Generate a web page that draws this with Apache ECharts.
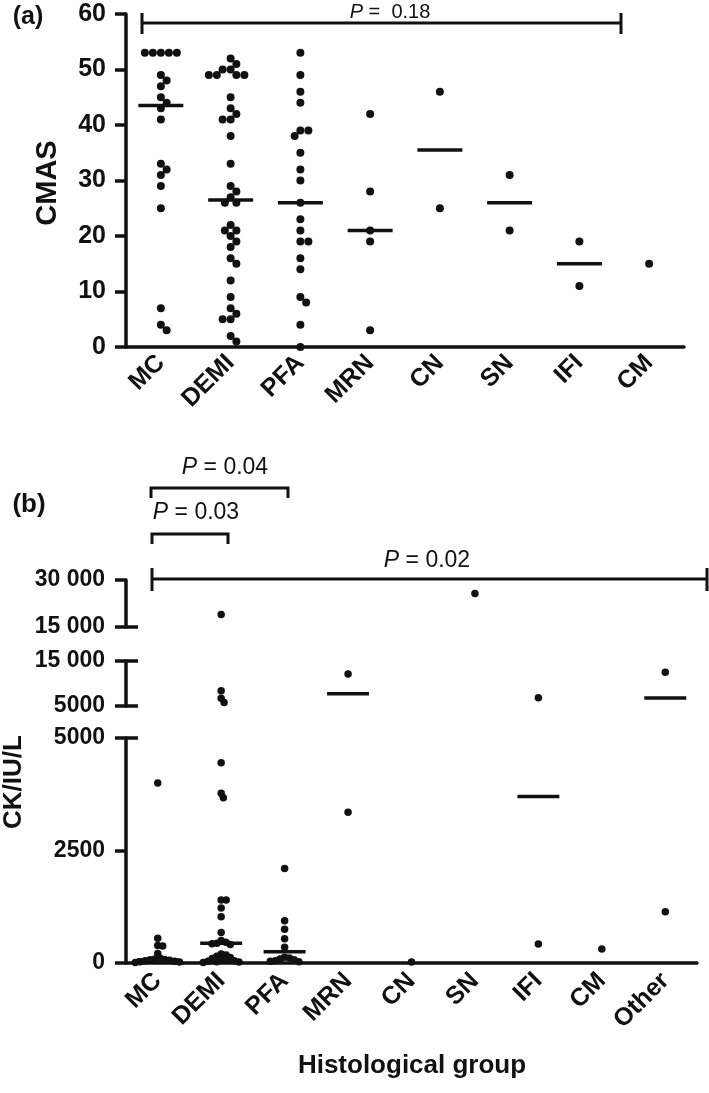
<!DOCTYPE html>
<html>
<head>
<meta charset="utf-8">
<script src="https://cdn.jsdelivr.net/npm/echarts@6/dist/echarts.min.js"></script>
<style>
  html, body { margin: 0; padding: 0; background: #fff; }
  #main { width: 709px; height: 1093px; }
</style>
</head>
<body>
<div id="main"></div>
<script>
  // (a) CMAS by histological group
  var catsA = ['MC', 'DEMI', 'PFA', 'MRN', 'CN', 'SN', 'IFI', 'CM'];
  var cmasMC = [53, 53, 53, 53, 53, 49, 48, 47, 45, 44, 43, 41, 33, 32, 31, 29, 25, 7, 4, 3];
  var cmasDEMI = [52, 51, 50, 50, 49, 49, 49, 49, 45, 43, 42, 41, 41, 38, 33, 29, 28, 27, 26, 26,
    22, 21, 21, 20, 19, 18, 16, 15, 12, 9, 7, 6, 5, 5, 2, 1];
  var cmasPFA = [53, 49, 46, 44, 39, 39, 38, 35, 32, 30, 26, 23, 21, 19, 19, 16, 14, 9, 8, 4, 0];
  var cmasMRN = [42, 28, 21, 19, 3];
  var cmasCN = [46, 25];
  var cmasSN = [31, 21];
  var cmasIFI = [19, 11];
  var cmasCM = [15];
  var cmasMedian = [43.5, 26.5, 26, 21, 35.5, 26, 15, null];
  var cmasTicks = [0, 60, 10];

  // (b) CK (IU/L) by histological group, broken axis
  var catsB = ['MC', 'DEMI', 'PFA', 'MRN', 'CN', 'SN', 'IFI', 'CM', 'Other'];
  var ckMC = [4000, 550, 390, 380, 210, 110, 90, 80, 70, 60, 50, 40, 30, 20, 10];
  var ckDEMI = [19000, 8400, 6700, 5800, 4450, 3770, 3670, 1400, 1400, 1220, 1030, 680, 500, 460, 440,
    430, 410, 200, 180, 150, 120, 100, 80, 60, 50, 40, 30, 20, 10];
  var ckPFA = [2100, 940, 750, 540, 350, 130, 110, 90, 70, 50, 40, 30];
  var ckMRN = [12100, 3350];
  var ckCN = [20];
  var ckSN = [25700];
  var ckIFI = [6850, 420];
  var ckCM = [310];
  var ckOther = [12500, 1140];
  var ckMedian = [65, 440, 250, 7700, null, null, 3700, null, 6800];
  // segments of the broken axis, top to bottom: [min, max, interval]
  var ckTop = [15000, 30000, 15000];
  var ckMid = [5000, 15000, 10000];
  var ckLow = [0, 5000, 2500];

  var ink = '#111111';
  var font = '"Liberation Sans", Arial, sans-serif';
  var chart = echarts.init(document.getElementById('main'));

  var groupsA = [cmasMC, cmasDEMI, cmasPFA, cmasMRN, cmasCN, cmasSN, cmasIFI, cmasCM];
  var groupsB = [ckMC, ckDEMI, ckPFA, ckMRN, ckCN, ckSN, ckIFI, ckCM, ckOther];
  var segs = [ckTop, ckMid, ckLow];

  function inSeg(v, s) {
    if (s[0] === 0) return v <= s[1];
    return v > s[0] && v <= s[1];
  }

  function points(groups, pick) {
    var out = [];
    groups.forEach(function (vals, i) {
      vals.forEach(function (v) {
        if (pick(v)) out.push([i, v]);
      });
    });
    return out;
  }

  function medianPoints(meds, pick) {
    var out = [];
    meds.forEach(function (v, i) {
      if (v != null && pick(v)) out.push([i, v]);
    });
    return out;
  }

  function fmtK(v) {
    var s = String(v);
    return v >= 10000 ? s.replace(/(\d+)(\d{3})$/, '$1 $2') : s;
  }

  var labelStyle = {color: ink, fontWeight: 'bold', fontFamily: font};

  var grids = [
    {left: 126, top: 14, width: 558, height: 333},
    {left: 126, top: 580, width: 571, height: 47},
    {left: 126, top: 661, width: 571, height: 45},
    {left: 126, top: 738, width: 571, height: 225}
  ];
  grids.forEach(function (g) { g.outerBoundsMode = 'none'; g.containLabel = false; });

  function catAxis(cats, gi, show, labelMargin) {
    return {
      type: 'category', gridIndex: gi, data: cats, show: show,
      axisLine: {lineStyle: {color: ink, width: 3.5}},
      axisTick: {alignWithLabel: true, length: 10, lineStyle: {color: ink, width: 3.5}},
      axisLabel: Object.assign({rotate: 45, fontSize: 25, margin: labelMargin, interval: 0}, labelStyle),
      splitLine: {show: false}
    };
  }

  function valAxis(gi, s, fontSize, margin) {
    return {
      type: 'value', gridIndex: gi, min: s[0], max: s[1], interval: s[2], position: 'left',
      axisLine: {show: true, lineStyle: {color: ink, width: 3.5}},
      axisTick: {show: true, length: 11, lineStyle: {color: ink, width: 3.5}},
      axisLabel: Object.assign({fontSize: fontSize, margin: margin, formatter: fmtK}, labelStyle),
      splitLine: {show: false}
    };
  }

  function dotSeries(data, xi, yi, size) {
    return {
      type: 'scatter', xAxisIndex: xi, yAxisIndex: yi, data: data,
      symbol: 'circle', symbolSize: size, clip: false,
      itemStyle: {color: ink, opacity: 1}, z: 3
    };
  }

  function medSeries(data, xi, yi, w) {
    return {
      type: 'scatter', xAxisIndex: xi, yAxisIndex: yi, data: data,
      symbol: 'rect', symbolSize: [w, 3.5], clip: false,
      itemStyle: {color: ink, opacity: 1}, z: 4
    };
  }

  var dotsA = points(groupsA, function () { return true; });
  var series = [
    dotSeries(dotsA, 0, 0, 8),
    medSeries(medianPoints(cmasMedian, function () { return true; }), 0, 0, 45)
  ];
  var dotsB = [];
  segs.forEach(function (s, k) {
    var d = points(groupsB, function (v) { return inSeg(v, s); });
    dotsB.push(d);
    series.push(dotSeries(d, k + 1, k + 1, 7.5));
    series.push(medSeries(medianPoints(ckMedian, function (v) { return inSeg(v, s); }), k + 1, k + 1, 42));
  });

  function pText(x, y, rest, size) {
    return {
      type: 'text', x: x, y: y,
      style: {
        text: '{i|P}' + rest, align: 'center', verticalAlign: 'middle',
        fill: ink, fontSize: size, fontFamily: font,
        rich: {i: {fontStyle: 'italic', fontSize: size, fontFamily: font, fill: ink}}
      }
    };
  }

  function line(pts, w) {
    return {type: 'polyline', z: 10, shape: {points: pts}, style: {stroke: ink, lineWidth: w || 3, fill: null}};
  }

  function label(x, y, text, size, rot) {
    return {
      type: 'text', x: x, y: y, rotation: rot || 0,
      style: {text: text, align: 'center', verticalAlign: 'middle', fill: ink,
        fontSize: size, fontWeight: 'bold', fontFamily: font}
    };
  }

  // inner stubs where the broken axis segments end
  var stubLines = [];
  [[1, 'bottom'], [2, 'top'], [2, 'bottom'], [3, 'top']].forEach(function (st) {
    var g = grids[st[0]];
    var y = st[1] === 'top' ? g.top : g.top + g.height;
    stubLines.push(line([[g.left, y], [g.left + 12, y]], 3.5));
  });

  var graphics = [
    label(28, 17, '(a)', 25),
    label(29, 505, '(b)', 26),
    label(48, 183, 'CMAS', 29, Math.PI / 2),
    label(14, 782, 'CK/IU/L', 26, Math.PI / 2),
    label(412, 1066, 'Histological group', 26),
    // (a) comparison bar
    line([[142, 23], [621, 23]]),
    line([[142, 13], [142, 34]]),
    line([[621, 13], [621, 34]]),
    pText(390, 12, ' =  0.18', 20),
    // (b) comparison bars
    line([[151, 498], [151, 488], [288, 488], [288, 498]]),
    pText(225, 468, ' = 0.04', 23),
    line([[152, 544], [152, 534], [228, 534], [228, 544]]),
    pText(196, 513, ' = 0.03', 23),
    line([[152, 579], [707, 579]]),
    line([[152, 568], [152, 591]]),
    line([[707, 568], [707, 591]]),
    pText(427, 561, ' = 0.02', 23)
  ].concat(stubLines);

  var option = {
    animation: false,
    backgroundColor: '#fff',
    grid: grids,
    xAxis: [
      catAxis(catsA, 0, true, 12),
      catAxis(catsB, 1, false, 14),
      catAxis(catsB, 2, false, 14),
      catAxis(catsB, 3, true, 14)
    ],
    yAxis: [
      valAxis(0, cmasTicks, 25, 20),
      valAxis(1, ckTop, 23, 21),
      valAxis(2, ckMid, 23, 21),
      valAxis(3, ckLow, 23, 21)
    ],
    series: series,
    graphic: graphics
  };

  chart.setOption(option);

  // spread overlapping dots sideways within each column (beeswarm)
  function spread(data, gridIndex, diam) {
    var byCat = {};
    var offs = data.map(function () { return 0; });
    data.forEach(function (d, k) {
      var p = chart.convertToPixel({gridIndex: gridIndex}, d);
      (byCat[d[0]] = byCat[d[0]] || []).push({k: k, y: p[1]});
    });
    Object.keys(byCat).forEach(function (c) {
      var pts = byCat[c].sort(function (a, b) { return a.y - b.y; });
      var placed = [];
      pts.forEach(function (p) {
        var near = placed.filter(function (q) { return Math.abs(q.y - p.y) < diam; });
        var cands = [0];
        near.forEach(function (q) {
          var w = Math.sqrt(diam * diam - (q.y - p.y) * (q.y - p.y));
          cands.push(q.x + w, q.x - w);
        });
        cands.sort(function (a, b) { return Math.abs(a) - Math.abs(b); });
        var x = cands.find(function (cx) {
          return near.every(function (q) {
            var dx = cx - q.x, dy = q.y - p.y;
            return dx * dx + dy * dy >= diam * diam - 0.01;
          });
        });
        placed.push({x: x, y: p.y});
        offs[p.k] = x;
      });
    });
    return data.map(function (d, k) { return {value: d, symbolOffset: [offs[k], 0]}; });
  }

  var upd = [{data: spread(dotsA, 0, 8)}, {}];
  dotsB.forEach(function (d, k) {
    upd.push({data: spread(d, k + 1, 5)});
    upd.push({});
  });
  chart.setOption({series: upd});
</script>
</body>
</html>
